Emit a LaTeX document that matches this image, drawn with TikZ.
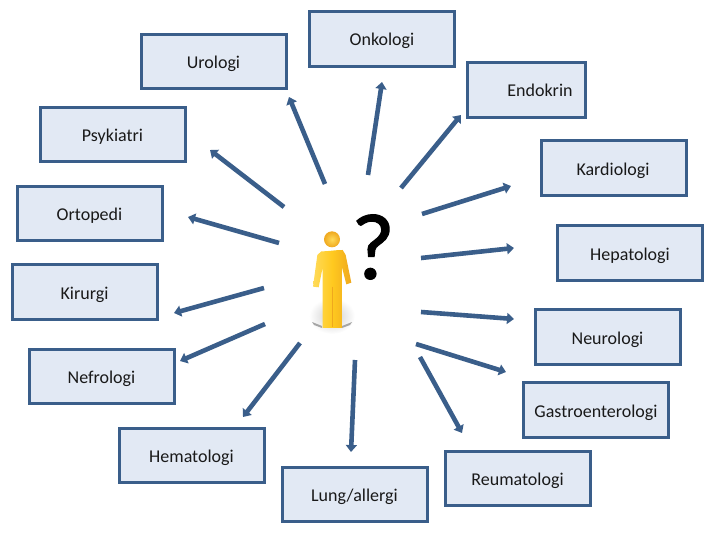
\documentclass[tikz,border=0pt]{standalone}
\usepackage{fontspec}
\setmainfont{Carlito}
\newfontfamily\qfont[FakeBold=1.2]{Carlito}
\usetikzlibrary{arrows.meta}
\definecolor{boxfill}{HTML}{E2E9F4}
\definecolor{boxline}{HTML}{3A5E8A}
\definecolor{goldL}{HTML}{FFDB5A}
\definecolor{goldM}{HTML}{FFC91F}
\definecolor{goldR}{HTML}{EFA81E}
\tikzset{
  labeltext/.style={font=\fontsize{18}{20}\selectfont,text=black!90,text height=15pt,text depth=1pt,inner sep=0pt},
  dept/.style={draw=boxline,line width=3pt,fill=boxfill,minimum width=145pt,minimum height=54.5pt,labeltext,anchor=center},
  spoke/.style={draw=boxline,line width=4.6pt,-{Triangle[length=7pt,width=11pt]}}
}
\begin{document}
\begin{tikzpicture}[x=1pt,y=-1pt]
\useasboundingbox (0,0) rectangle (720,540);
\node[dept] (onk) at (382,39) {Onkologi};
\node[dept] (uro) at (213.5,61.5) {Urologi};
\node[dept,minimum width=118pt,minimum height=55.5pt] (end) at (526,90) {};
\node[labeltext] (endt) at (540,90) {Endokrin};
\node[dept] (psy) at (112.5,134.5) {Psykiatri};
\node[dept] (kar) at (613.5,168) {};
\node[labeltext] (kart) at (613,169) {Kardiologi};
\node[dept] (ort) at (89.5,213.5) {Ortopedi};
\node[dept] (hep) at (630,253) {Hepatologi};
\node[dept] (kir) at (84.5,292) {Kirurgi};
\node[dept] (neu) at (607.5,337) {Neurologi};
\node[dept] (nef) at (101.5,376.5) {Nefrologi};
\node[dept] (gas) at (596,410) {Gastroenterologi};
\node[dept] (hem) at (191.5,455.5) {Hematologi};
\node[dept] (lun) at (354.5,494.5) {Lung/allergi};
\node[dept] (reu) at (517.5,478.5) {Reumatologi};
% person
\shade[inner color=black!20,outer color=white,draw=none] (332,316) ellipse (23 and 18);
\fill[black!35] (312,322) -- (322,326) -- (322,328) -- (314,325) -- cycle;
\fill[black!35] (352,322) -- (342,326) -- (342,328) -- (350,325) -- cycle;
\begin{scope}[shift={(280,190)},x=0.3333pt,y=-0.3333pt]
  \path[left color=goldL,right color=goldR,middle color=goldM]
    (124,184) to[out=0,in=180] (188,180) -- (197,195) -- (214,278) -- (199,283) -- (186,232)
    -- (186,414) -- (128,414) -- (128,232) -- (116,292) -- (99,290) -- (112,195) -- cycle;
  \draw[goldR,line width=0.6pt] (156,290) -- (156,412);
  \shade[inner color=goldL,outer color=goldR] (156,148) circle (24);
\end{scope}
\node[font=\fontsize{94}{94}\selectfont\qfont,text=black,inner sep=0pt] (q) at (373,247) {?};
% connector ends
\coordinate (s1) at (325,184); \coordinate (t1) at (289,97);
\coordinate (s2) at (368,175); \coordinate (t2) at (382,82);
\coordinate (s3) at (401,188); \coordinate (t3) at (461,115);
\coordinate (s4) at (284,207); \coordinate (t4) at (210,150);
\coordinate (s5) at (422,214); \coordinate (t5) at (511,186);
\coordinate (s6) at (421,258); \coordinate (t6) at (514,248);
\coordinate (s7) at (279,243); \coordinate (t7) at (188,217);
\coordinate (s8) at (264,288); \coordinate (t8) at (174,313);
\coordinate (s9) at (421,312); \coordinate (t9) at (514,319);
\coordinate (s10) at (416,344); \coordinate (t10) at (506,372);
\coordinate (s11) at (265,324); \coordinate (t11) at (180,361);
\coordinate (s12) at (300,343); \coordinate (t12) at (243,417);
\coordinate (s13) at (355,360); \coordinate (t13) at (351,452);
\coordinate (s14) at (420,357); \coordinate (t14) at (462,433);
\foreach \i in {1,...,14}{\draw[spoke] (s\i) -- (t\i);}
\end{tikzpicture}
\end{document}
